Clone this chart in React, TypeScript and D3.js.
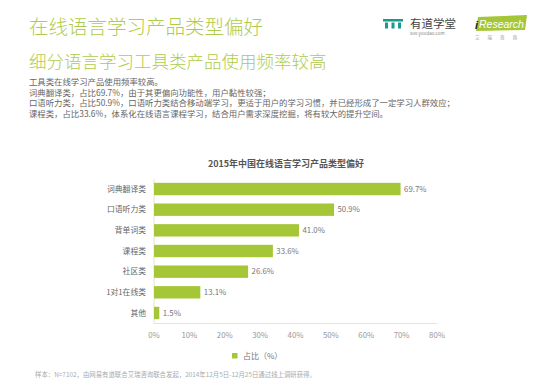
import React from "react";
import * as d3 from "d3";

const categories = ["词典翻译类", "口语听力类", "背单词类", "课程类", "社区类", "1对1在线类", "其他"];
const values = [69.7, 50.9, 41.0, 33.6, 26.6, 13.1, 1.5];
const tickValues = [0, 10, 20, 30, 40, 50, 60, 70, 80];
const bodyLines = [
  "工具类在线学习产品使用频率较高。",
  "词典翻译类，占比69.7%，由于其更偏向功能性，用户黏性较强；",
  "口语听力类，占比50.9%，口语听力类结合移动端学习，更适于用户的学习习惯，并已经形成了一定学习人群效应；",
  "课程类，占比33.6%，体系化在线语言课程学习，结合用户需求深度挖掘，将有较大的提升空间。",
];
const title = "在线语言学习产品类型偏好";
const subtitle = "细分语言学习工具类产品使用频率较高";
const chartTitle = "2015年中国在线语言学习产品类型偏好";
const legendLabel = "占比（%）";
const footnote = "样本：N=7102，由网易有道联合艾瑞咨询联合发起，2014年12月5日-12月25日通过线上调研获得。";

const GREEN = "#a4c637";
const TITLE_GREEN = "#afcb4a";
const FONT = "'Noto Sans CJK SC', 'Noto Sans', sans-serif";

export default function App() {
  const x = d3.scaleLinear().domain([0, 80]).range([154, 437]);
  const y = d3
    .scaleBand<string>()
    .domain(categories)
    .range([178.7, 323.3])
    .paddingInner(0.4)
    .paddingOuter(0.2);
  const axisY = 323.5;

  return (
    <svg
      width={554}
      height={389}
      style={{ position: "absolute", left: 0, top: 0, background: "#fff" }}
      fontFamily={FONT}
    >
      <rect width={554} height={389} fill="#fff" />
      {/* Titles */}
      <text x={29} y={34} fontSize={19.5} fontWeight={300} fill={TITLE_GREEN}>{title}</text>
      <text x={29} y={68} fontSize={17.5} fontWeight={300} fill={TITLE_GREEN}>{subtitle}</text>

      {/* Logos */}
      <g>
        <rect x={383} y={19} width={20} height={2.5} fill="#1a9a8a" />
        <rect x={385} y={22.5} width={3} height={6} fill="#1a9a8a" />
        <rect x={391.5} y={22.5} width={3} height={6} fill="#1a9a8a" />
        <rect x={398} y={22.5} width={3} height={6} fill="#1a9a8a" />
        <text x={410} y={27.5} fontSize={11.5} fill="#444">有道学堂</text>
        <text x={410} y={35} fontSize={4.5} fill="#888">xue.youdao.com</text>
        <path d="M478,17 L527,15 L525,30 L476,31 Z" fill={GREEN} />
        <text x={475} y={28.5} fontSize={11} fill="#222" fontStyle="italic" fontFamily="'Liberation Sans', sans-serif" fontWeight="bold">i</text>
        <text x={479} y={28} fontSize={10.5} fill="#fff" fontStyle="italic" fontFamily="'Liberation Sans', sans-serif">Research</text>
        <text x={475} y={39} fontSize={4.5} fill="#999" letterSpacing={8}>艾瑞咨询</text>
      </g>

      {/* Body text */}
      {bodyLines.map((l, i) => (
        <text key={i} x={29} y={85 + i * 10.5} fontSize={8.4} fill="#666">{l}</text>
      ))}

      {/* Chart title */}
      <text x={286} y={167} fontSize={9} fontWeight="bold" fill="#555" textAnchor="middle">{chartTitle}</text>

      {/* Axis lines */}
      <line x1={x(0)} x2={x(0)} y1={179} y2={axisY} stroke="#e2e2e2" strokeWidth={1} />
      <line x1={x(0)} x2={x(80)} y1={axisY} y2={axisY} stroke="#e2e2e2" strokeWidth={1} />

      {/* Bars */}
      {categories.map((c, i) => {
        const yy = y(c)!;
        const bw = y.bandwidth();
        return (
          <g key={c}>
            <rect x={x(0)} y={yy} width={x(values[i]) - x(0)} height={bw} fill={GREEN} />
            <text x={146} y={yy + bw / 2} dy="0.35em" fontSize={7.8} fill="#666" textAnchor="end">{c}</text>
            <text x={x(values[i]) + 3.5} y={yy + bw / 2} dy="0.35em" fontSize={7.8} fill="#777">{values[i].toFixed(1)}%</text>
          </g>
        );
      })}

      {/* Ticks */}
      {tickValues.map((t) => (
        <text key={t} x={x(t)} y={335} dy="0.35em" fontSize={7.8} fill="#999" textAnchor="middle">{t}%</text>
      ))}

      {/* Legend */}
      <rect x={232} y={353} width={5.5} height={5.5} fill={GREEN} />
      <text x={243} y={356} dy="0.35em" fontSize={8} fill="#777">{legendLabel}</text>

      {/* Footnote */}
      <text x={35} y={377} fontSize={6.4} fill="#aaa">{footnote}</text>
    </svg>
  );
}
